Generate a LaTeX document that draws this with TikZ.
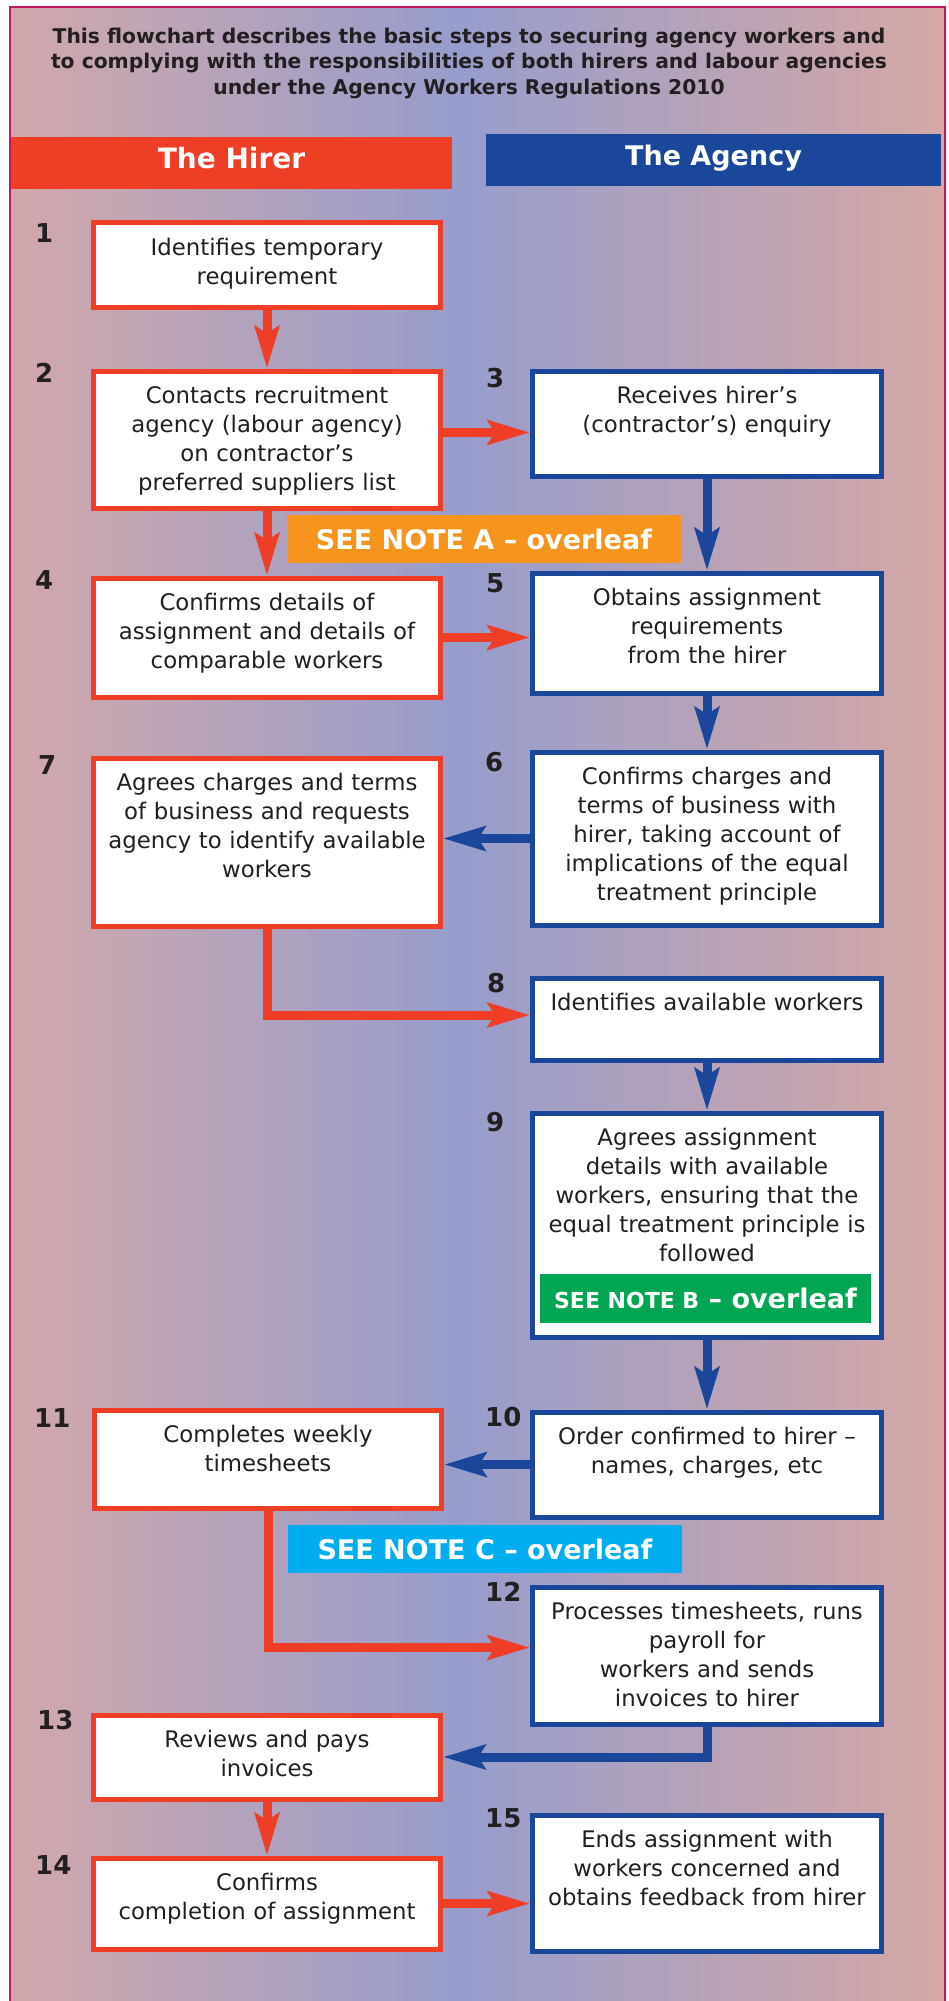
\documentclass[tikz,border=0pt]{standalone}
\usepackage{fontspec}
\setmainfont{DejaVu Sans}
\usetikzlibrary{arrows.meta}
\definecolor{hirered}{HTML}{EF3E26}
\definecolor{agblue}{HTML}{1B479B}
\definecolor{txt}{HTML}{231F20}
\definecolor{bgpink}{HTML}{D2A8AA}
\definecolor{bgblue}{HTML}{969DCC}
\definecolor{bgpinkr}{HTML}{D6A8A5}
\definecolor{framecol}{HTML}{C41760}
\definecolor{noteorange}{HTML}{F7941D}
\definecolor{notegreen}{HTML}{00A651}
\definecolor{notecyan}{HTML}{00AEEF}
\begin{document}
\begin{tikzpicture}[x=1pt,y=-1pt,
    box/.style={draw,fill=white,line width=5pt,anchor=north,align=center,text=txt,
      inner xsep=6pt,inner ysep=10pt,text height=22.5pt,font=\fontsize{22.8}{29}\selectfont},
    hbox/.style={box,draw=hirered,text width=335pt},
    abox/.style={box,draw=agblue,text width=337pt},
    tall/.style={text depth=#1},
    num/.style={anchor=west,inner sep=0pt,text=txt,font=\fontsize{26}{26}\selectfont\bfseries},
    note/.style={inner sep=0pt,text=white,font=\fontsize{27}{27}\selectfont\bfseries},
    bar/.style={inner sep=0pt,minimum height=52pt,text=white,text height=21pt,text depth=10pt,
      font=\fontsize{28}{28}\selectfont\bfseries},
    rarr/.style={draw=hirered,line width=9pt,-{Stealth[length=42pt,width=24pt,inset=7pt]}},
    barr/.style={draw=agblue,line width=9pt,-{Stealth[length=42pt,width=24pt,inset=7pt]}}]
  \useasboundingbox (0,0) rectangle (949,2001);
  \shade[left color=bgpink,right color=bgblue] (10,7) rectangle (460,2010);
  \shade[left color=bgblue,right color=bgpinkr] (460,7) rectangle (945,2010);
  \draw[framecol,line width=2.5pt] (10,7) rectangle (945,2010);

  \node[align=center,text=txt,font=\fontsize{20.3}{25.5}\selectfont\bfseries] (title) at (469,63)
    {This flowchart describes the basic steps to securing agency workers and\\
     to complying with the responsibilities of both hirers and labour agencies\\
     under the Agency Workers Regulations 2010};
  \node[bar,fill=hirered,minimum width=441pt] (hirer) at (231.5,163) {The Hirer};
  \node[bar,fill=agblue,minimum width=455pt,font=\fontsize{27}{27}\selectfont\bfseries] (agency) at (713.5,160) {The Agency};

  \node[hbox,tall=41.5pt] (b1) at (267,220.5) {Identifies temporary\\requirement};
  \node[hbox,tall=94.5pt] (b2) at (267,368.5) {Contacts recruitment\\agency (labour agency)\\on contractor’s\\preferred suppliers list};
  \node[abox,tall=62.5pt] (b3) at (707,368.5) {Receives hirer’s\\(contractor’s) enquiry};
  \node[hbox,tall=76.5pt] (b4) at (267,575.5) {Confirms details of\\assignment and details of\\comparable workers};
  \node[abox,tall=77.5pt] (b5) at (707,570.5) {Obtains assignment\\requirements\\from the hirer};
  \node[abox,tall=130.5pt] (b6) at (707,749.5) {Confirms charges and\\terms of business with\\hirer, taking account of\\implications of the equal\\treatment principle};
  \node[hbox,tall=125.5pt] (b7) at (267,755.5) {Agrees charges and terms\\of business and requests\\agency to identify available\\workers};
  \node[abox,tall=39.5pt] (b8) at (707,975.5) {Identifies available workers};
  \node[abox,tall=181.5pt] (b9) at (707,1110.5) {Agrees assignment\\details with available\\workers, ensuring that the\\equal treatment principle is\\followed};
  \node[abox,tall=62.5pt] (b10) at (707,1409.5) {Order confirmed to hirer –\\names, charges, etc};
  \node[hbox,tall=55.5pt] (b11) at (268,1407.5) {Completes weekly\\timesheets};
  \node[abox,tall=94.5pt] (b12) at (707,1584.5) {Processes timesheets, runs\\payroll for\\workers and sends\\invoices to hirer};
  \node[hbox,tall=41.5pt] (b13) at (267,1712.5) {Reviews and pays\\invoices};
  \node[hbox,tall=48.5pt] (b14) at (267,1855.5) {Confirms\\completion of assignment};
  \node[abox,tall=93.5pt] (b15) at (707,1812.5) {Ends assignment with\\workers concerned and\\obtains feedback from hirer};

  \node[note,fill=noteorange,minimum width=394pt,minimum height=48pt] (noteA) at (484,539) {SEE NOTE A – overleaf};
  \node[note,fill=notegreen,minimum width=331pt,minimum height=49pt] (noteB) at (705.5,1298.5)
    {{\fontsize{22}{22}\selectfont SEE NOTE B} – overleaf};
  \node[note,fill=notecyan,minimum width=394pt,minimum height=48pt] (noteC) at (485,1549) {SEE NOTE C – overleaf};

  \foreach \n/\x/\y in {1/35/233,2/35/373,3/486/378,4/35/580,5/486/583,6/485/762,7/38/765,8/487/983,
      9/486/1122,10/485/1417,11/34/1418,12/485/1592,13/37/1720,14/35/1865,15/485/1818}
    \node[num] (n\n) at (\x,\y) {\n};

  \draw[rarr] (b1.south) -- (b2.north);
  \draw[rarr] ([yshift=-9pt]b3.west -| b2.east) -- ([yshift=-9pt]b3.west);
  \draw[rarr] (b2.south) -- (b4.north);
  \draw[barr] (b3.south) -- (b5.north);
  \draw[rarr] (b4.east) -- (b4.east -| b5.west);
  \draw[barr] (b5.south) -- (b6.north);
  \draw[barr] (b6.west) -- (b6.west -| b7.east);
  \draw[rarr] (b7.south) |- ([yshift=4pt]b8.west);
  \draw[barr] (b8.south) -- (b9.north);
  \draw[barr] (b9.south) -- (b10.north);
  \draw[barr] (b10.west) -- (b10.west -| b11.east);
  \draw[rarr] (b11.south) |- ([yshift=8pt]b12.west);
  \draw[barr] (b12.south) |- (b13.east);
  \draw[rarr] (b13.south) -- (b14.north);
  \draw[rarr] (b14.east) -- (b14.east -| b15.west);
\end{tikzpicture}
\end{document}
